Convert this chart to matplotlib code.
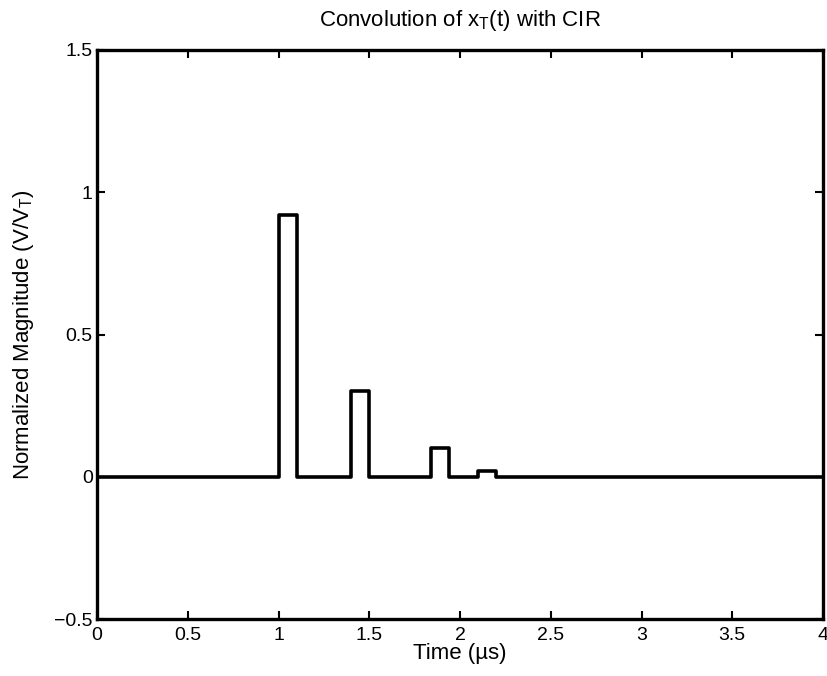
import numpy as np
import matplotlib.pyplot as plt

plt.rcParams['font.family'] = ['Liberation Sans', 'DejaVu Sans']
plt.rcParams['mathtext.default'] = 'regular'

# pulse start times (us), widths and heights
pulse_start = [1.0, 1.4, 1.84, 2.1]
pulse_width = [0.1, 0.1, 0.1, 0.1]
pulse_height = [0.92, 0.30, 0.10, 0.02]
t_range = [0, 4]

x_ticks = [0, 0.5, 1, 1.5, 2, 2.5, 3, 3.5, 4]
y_ticks = [-0.5, 0, 0.5, 1, 1.5]

# build the rectangular pulse train as a polyline
t = [t_range[0]]
v = [0]
for s, w, h in zip(pulse_start, pulse_width, pulse_height):
    t += [s, s, s + w, s + w]
    v += [0, h, h, 0]
t.append(t_range[1])
v.append(0)

fig = plt.figure(figsize=(8.27, 6.76), dpi=100)
ax = fig.add_axes([97 / 827, 1 - 619 / 676, 726 / 827, 569 / 676])
ax.plot(t, v, color='black', linewidth=2.6)

ax.set_xlim(0, 4)
ax.set_ylim(-0.5, 1.5)
ax.set_xticks(x_ticks)
ax.set_xticklabels(['0', '0.5', '1', '1.5', '2', '2.5', '3', '3.5', '4'])
ax.set_yticks(y_ticks)
ax.set_yticklabels(['\u22120.5', '0', '0.5', '1', '1.5'])
ax.tick_params(direction='in', top=True, right=True, length=6, width=1.5,
               labelsize=14)
ax.tick_params(axis='x', pad=6)
ax.tick_params(axis='y', pad=3)
for sp in ax.spines.values():
    sp.set_linewidth(2.4)

ax.set_title('Convolution of x$_T$(t) with CIR', fontsize=16, pad=17)
ax.set_xlabel('Time (\u00b5s)', fontsize=16, labelpad=-1)
ax.set_ylabel('Normalized Magnitude (V/V$_T$)', fontsize=16, labelpad=13)

fig.savefig('out.png', dpi=100)
